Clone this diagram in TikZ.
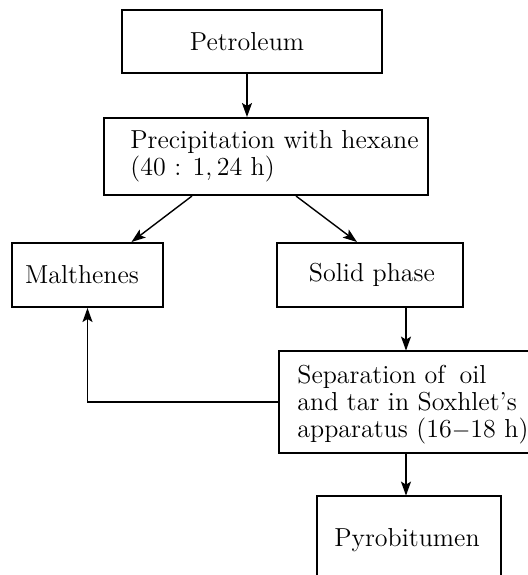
\documentclass[tikz,border=0pt]{standalone}
\usepackage{fontspec}
\usetikzlibrary{arrows.meta,calc}
\begin{document}
\begin{tikzpicture}[x=0.5pt,y=-0.5pt,
  box/.style={draw, line width=1pt, rectangle, inner sep=0pt},
  ghost/.style={draw=none, rectangle, inner sep=0pt},
  txt/.style={inner sep=0pt, font=\fontsize{13}{13.5}\selectfont\addfontfeatures{LetterSpace=2.5}},
  arr/.style={line width=0.7pt, -{Stealth[length=7pt,width=5pt,inset=1.5pt]}},
  ln/.style={line width=0.7pt}]
\useasboundingbox (0,0) rectangle (528,575);
% boxes
\node[box, minimum width=130pt, minimum height=31.5pt] (petro) at (252,41.5) {};
\node[txt] (petroT) at (247,41.5) {Petroleum};
\node[box, minimum width=162pt, minimum height=38.5pt] (precip) at (266,156.5) {};
\node[txt, anchor=base west] (precipA) at (130,148) {Precipitation with hexane};
\node[txt, anchor=base west] (precipB) at (130,175) {(40 : 1,\,24 h)};
\node[box, minimum width=75.5pt, minimum height=32pt] (malth) at (87.5,275) {};
\node[txt] (malthT) at (82,275) {Malthenes};
\node[box, minimum width=93pt, minimum height=32pt] (solid) at (370,275) {};
\node[txt] (solidT) at (372,275) {Solid phase};
\node[ghost, minimum width=130.5pt, minimum height=51pt] (sep) at (409.5,402) {};
\draw[line width=1pt] (sep.north east) -- (sep.north west) -- (sep.south west) -- (sep.south east);
\node[txt, anchor=base west] (sepA) at (297,383) {Separation of\hspace{3pt} oil};
\node[txt, anchor=base west] (sepB) at (297,410) {and tar in Soxhlet’s};
\node[txt, anchor=base west] (sepC) at (297,437) {apparatus (16$-$18 h)};
\node[ghost, minimum width=92pt, minimum height=52pt] (pyro) at (409,548) {};
\draw[line width=1pt] (pyro.south west) -- (pyro.north west) -- (pyro.north east) -- (pyro.south east);
\node[txt] (pyroT) at (407,540) {Pyrobitumen};
% connectors
\draw[arr] ([xshift=-2.5pt]petro.south) -- ([xshift=-2.5pt]petro.south |- precip.north);
\draw[arr] ([xshift=-37pt]precip.south) -- ([xshift=22pt]malth.north);
\draw[arr] ([xshift=15pt]precip.south) -- ([xshift=-6.5pt]solid.north);
\coordinate (col) at ([xshift=18pt]solid.south);
\draw[arr] (col) -- (col |- sep.north);
\draw[arr] (sep.west) -| (malth.south);
\draw[arr] (col |- sep.south) -- (col |- pyro.north);
\end{tikzpicture}
\end{document}
